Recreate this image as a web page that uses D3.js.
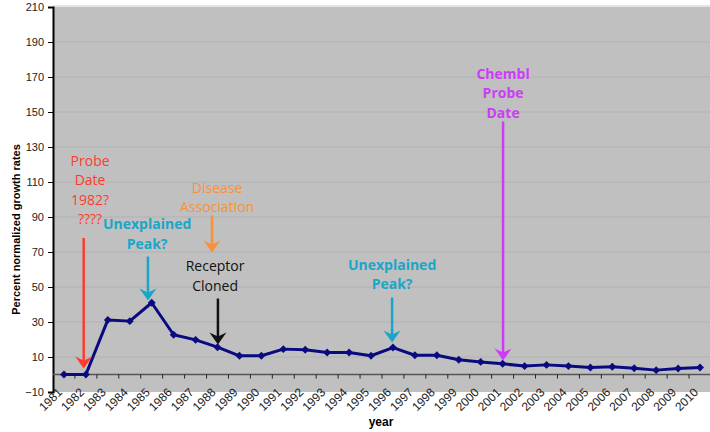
<!DOCTYPE html>
<html lang="en">
<head>
  <meta charset="UTF-8">
  <title>Percent normalized growth rates</title>
  <script src="https://cdn.jsdelivr.net/npm/d3@7/dist/d3.min.js"></script>
  <style>
    body { margin: 0; background: #fff; }
    text { font-family: "Liberation Sans", Arial, sans-serif; }
    .note { font-family: "Open Sans", "DejaVu Sans", sans-serif; font-size: 14px; }
  </style>
</head>
<body>
  <svg width="710" height="432" id="main"></svg>
<script>
  // data
  const years = d3.range(1981, 2011);
  const values = [0, 0, 31.2, 30.5, 41, 22.7, 19.8, 15.6, 10.7, 10.7,
                  14.5, 14.1, 12.6, 12.6, 10.7, 15.4, 11, 11, 8.4, 7.2,
                  6.1, 4.8, 5.5, 4.8, 4, 4.4, 3.6, 2.5, 3.4, 4];
  const yTicks = d3.range(-10, 211, 20);

  // annotations: x in years, y in chart units
  const notes = [
    {lines: ['Probe', 'Date', '1982?', '????'], color: '#ff3b2f', bold: false, tx: 1982.19, ty: 119.4, ax: 1981.9, from: 78, to: 3.4},
    {lines: ['Unexplained', 'Peak?'], color: '#1aa6c8', bold: true, tx: 1984.79, ty: 82.9, ax: 1984.83, from: 67.4, to: 42.3},
    {lines: ['Disease', 'Association'], color: '#f7923a', bold: false, tx: 1987.98, ty: 104, ax: 1987.75, from: 90.9, to: 69.7},
    {lines: ['Receptor', 'Cloned'], color: '#111', bold: false, tx: 1987.89, ty: 58.9, ax: 1988.02, from: 43.4, to: 17.1},
    {lines: ['Unexplained', 'Peak?'], color: '#1aa6c8', bold: true, tx: 1995.96, ty: 60, ax: 1995.96, from: 44, to: 18.3},
    {lines: ['Chembl', 'Probe', 'Date'], color: '#cc3cf7', bold: true, tx: 2001.02, ty: 169.1, ax: 2001.02, from: 144.6, to: 8}
  ];

  const svg = d3.select('#main');
  const plot = {left: 53, right: 711, top: 7, bottom: 392};

  const x = d3.scaleBand().domain(years).range([plot.left, plot.right]).padding(0);
  const y = d3.scaleLinear().domain([-10, 210]).range([plot.bottom, plot.top]);
  // fractional year -> pixel
  const xf = yr => x(1981) + (yr - 1981 + 0.5) * x.bandwidth();

  // background
  svg.append('rect')
    .attr('x', plot.left).attr('y', plot.top)
    .attr('width', plot.right - plot.left).attr('height', plot.bottom - plot.top)
    .attr('fill', '#c0c0c0');
  svg.append('line')
    .attr('x1', plot.left).attr('x2', plot.right)
    .attr('y1', plot.top - 1).attr('y2', plot.top - 1)
    .attr('stroke', '#e4e4e4').attr('stroke-width', 2);

  // grid
  svg.append('g').selectAll('line')
    .data(yTicks.filter(d => d > -10 && d < 210))
    .enter().append('line')
    .attr('x1', plot.left).attr('x2', plot.right)
    .attr('y1', d => y(d)).attr('y2', d => y(d))
    .attr('stroke', '#b2b2b2').attr('stroke-width', 1);

  // y axis
  const yAxis = svg.append('g')
    .attr('transform', `translate(${plot.left},0)`)
    .call(d3.axisLeft(y).tickValues(yTicks).tickSize(5).tickPadding(4));
  yAxis.select('.domain').attr('stroke', '#000').attr('stroke-width', 2);
  yAxis.selectAll('.tick line').attr('stroke', '#000');
  yAxis.selectAll('text').attr('font-size', 11).attr('fill', '#222')
    .attr('font-family', '"Liberation Sans", Arial, sans-serif');

  // x axis on zero line, ticks between categories
  svg.append('line')
    .attr('x1', plot.left).attr('x2', plot.right)
    .attr('y1', y(0)).attr('y2', y(0))
    .attr('stroke', '#555').attr('stroke-width', 1.5);
  svg.append('g').selectAll('line')
    .data(years.slice(1))
    .enter().append('line')
    .attr('x1', d => x(d)).attr('x2', d => x(d))
    .attr('y1', y(0)).attr('y2', y(0) + 4)
    .attr('stroke', '#222');
  svg.append('g').selectAll('text')
    .data(years)
    .enter().append('text')
    .attr('transform', d => `translate(${x(d) + x.bandwidth() / 2 - 4},${plot.bottom - 2}) rotate(-45)`)
    .attr('text-anchor', 'end')
    .attr('dy', '0.35em')
    .attr('font-size', 12)
    .attr('fill', '#222')
    .text(d => d);

  // axis titles
  svg.append('text')
    .attr('transform', `translate(20,${(plot.top + plot.bottom) / 2 + 30}) rotate(-90)`)
    .attr('text-anchor', 'middle')
    .attr('font-size', 11).attr('font-weight', 'bold')
    .text('Percent normalized growth rates');
  svg.append('text')
    .attr('x', 381).attr('y', 426)
    .attr('text-anchor', 'middle')
    .attr('font-size', 12).attr('font-weight', 'bold')
    .text('year');

  // series
  const line = d3.line().x((d, i) => x(years[i]) + x.bandwidth() / 2).y(d => y(d));
  svg.append('path')
    .datum(values)
    .attr('d', line)
    .attr('fill', 'none')
    .attr('stroke', '#0a0a80')
    .attr('stroke-width', 3)
    .attr('stroke-linejoin', 'round');
  svg.append('g').selectAll('path')
    .data(values)
    .enter().append('path')
    .attr('d', d3.symbol().type(d3.symbolDiamond2).size(40))
    .attr('transform', (d, i) => `translate(${x(years[i]) + x.bandwidth() / 2},${y(d)})`)
    .attr('fill', '#0a0a80');

  // annotations
  const ng = svg.append('g').selectAll('g').data(notes).enter().append('g');
  ng.each(function (n) {
    const g = d3.select(this);
    g.append('text')
      .attr('class', 'note')
      .attr('text-anchor', 'middle')
      .attr('fill', n.color)
      .attr('font-weight', n.bold ? 'bold' : 'normal')
      .selectAll('tspan')
      .data(n.lines)
      .enter().append('tspan')
      .attr('x', xf(n.tx))
      .attr('y', (d, i) => y(n.ty) + i * 19.5)
      .text(d => d);
    const ax = xf(n.ax), y1 = y(n.from), y2 = y(n.to);
    g.append('line')
      .attr('x1', ax).attr('x2', ax)
      .attr('y1', y1).attr('y2', y2 - 6)
      .attr('stroke', n.color).attr('stroke-width', 2.5);
    g.append('path')
      .attr('d', `M${ax},${y2} L${ax - 8.5},${y2 - 12} L${ax},${y2 - 8} L${ax + 8.5},${y2 - 12} Z`)
      .attr('fill', n.color);
  });
</script>
</body>
</html>
